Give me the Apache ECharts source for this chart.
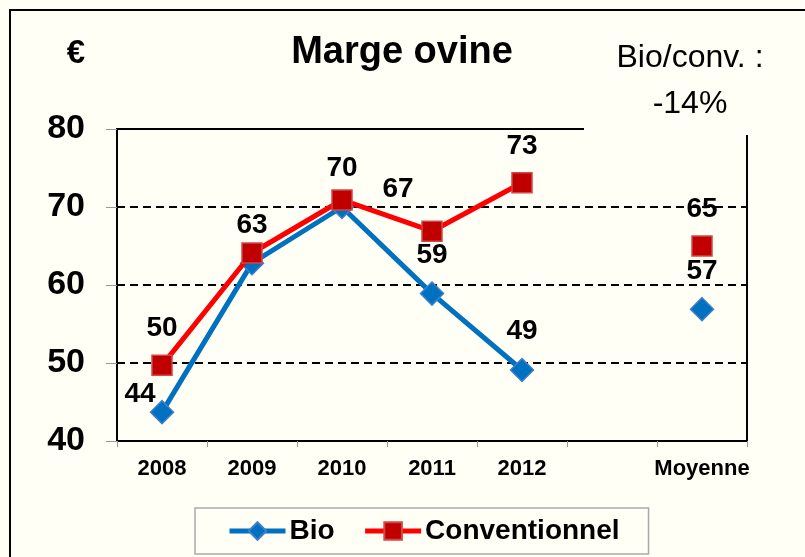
<!DOCTYPE html>
<html>
<head>
<meta charset="utf-8">
<script src="https://cdn.jsdelivr.net/npm/echarts@6/dist/echarts.min.js"></script>
<style>
html,body{margin:0;padding:0;background:#FFFFF6;}
#c{width:805px;height:557px;}
</style>
</head>
<body>
<div id="c"></div>
<script>
const categories = ['2008', '2009', '2010', '2011', '2012', '', 'Moyenne'];
const bioValues = [43.7, 62.8, 70, 58.9, 49.1, null, 56.9];
const convValues = [49.7, 64.1, 70.9, 66.9, 73.1, null, 65];
const yTicks = [40, 50, 60, 70, 80];
const seriesNames = ['Bio', 'Conventionnel'];

const FONT = 'Arial, "Liberation Sans", sans-serif';
const BG = '#FFFFF6';

function lbl(v) { return Math.round(v); }

// label tweaks by index (style only)
const bioLabelOverrides = { 0: { offset: [-22, 20] } };
const convLabelOverrides = { 1: { show: false }, 2: { show: false }, 3: { offset: [-34, -5] } };

function buildData(values, overrides) {
  return values.map((v, i) => {
    if (v === null) return null;
    const o = overrides[i];
    return o ? { value: v, label: o } : v;
  });
}

const labelBase = {
  show: true,
  position: 'top',
  distance: 12,
  color: '#000',
  fontFamily: FONT,
  fontWeight: 'bold',
  fontSize: 28,
  formatter: p => lbl(p.value)
};

const chart = echarts.init(document.getElementById('c'), null, { renderer: 'canvas' });
chart.setOption({
  backgroundColor: BG,
  animation: false,
  grid: {
    left: 117, right: 58, top: 129, bottom: 116,
    show: true, borderColor: '#000', borderWidth: 2, backgroundColor: 'transparent'
  },
  xAxis: {
    type: 'category',
    data: categories,
    boundaryGap: true,
    axisLine: { lineStyle: { color: '#000', width: 2 } },
    axisTick: { show: true, length: 6, lineStyle: { color: '#999', width: 1 } },
    axisLabel: { margin: 17, color: '#000', fontFamily: FONT, fontWeight: 'bold', fontSize: 22, interval: 0 },
    splitLine: { show: false }
  },
  yAxis: {
    type: 'value',
    min: yTicks[0], max: yTicks[yTicks.length - 1], interval: 10,
    axisLine: { show: true, lineStyle: { color: '#000', width: 2 } },
    axisTick: { show: true, length: 11, lineStyle: { color: '#999', width: 1 } },
    axisLabel: { margin: 32, color: '#000', fontFamily: FONT, fontWeight: 'bold', fontSize: 34 },
    splitLine: { show: true, lineStyle: { color: '#000', width: 2, type: [8, 5] } }
  },
  legend: {
    data: seriesNames,
    left: 195, top: 508,
    padding: [9, 29, 9, 32],
    itemWidth: 56, itemHeight: 22, itemGap: 28,
    backgroundColor: BG,
    borderColor: '#AAAAAA', borderWidth: 1.5, borderRadius: 0,
    lineStyle: { width: 5 },
    textStyle: { color: '#000', fontFamily: FONT, fontWeight: 'bold', fontSize: 28, padding: [0, 0, 0, -1] }
  },
  series: [
    {
      name: seriesNames[0], type: 'line',
      data: buildData(bioValues, bioLabelOverrides),
      connectNulls: false,
      symbol: 'diamond', symbolSize: 23,
      lineStyle: { color: '#0070C0', width: 5 },
      itemStyle: { color: '#0070C0', borderColor: '#3F7FC8', borderWidth: 1.5 },
      label: labelBase,
      z: 2
    },
    {
      name: seriesNames[1], type: 'line',
      data: buildData(convValues, convLabelOverrides),
      connectNulls: false,
      symbol: 'rect', symbolSize: 20,
      lineStyle: { color: '#FF0000', width: 5 },
      itemStyle: { color: '#C00000', borderColor: '#D04848', borderWidth: 1.5 },
      label: labelBase,
      z: 3
    }
  ],
  graphic: [
    { type: 'rect', z: 100, shape: { x: 10, y: 10, width: 820, height: 580 },
      style: { fill: 'none', stroke: '#000', lineWidth: 2 } },
    { type: 'rect', z: 90, shape: { x: 584, y: 16, width: 215, height: 119 },
      style: { fill: BG, stroke: 'none' } },
    { type: 'text', z: 101, x: 402, y: 53,
      style: { text: 'Marge ovine', fill: '#000', font: 'bold 38px ' + FONT, textAlign: 'center', textVerticalAlign: 'middle' } },
    { type: 'text', z: 101, x: 76, y: 54,
      style: { text: '€', fill: '#000', font: 'bold 33px ' + FONT, textAlign: 'center', textVerticalAlign: 'middle' } },
    { type: 'text', z: 101, x: 690, y: 58,
      style: { text: 'Bio/conv. :', fill: '#000', font: '32px ' + FONT, textAlign: 'center', textVerticalAlign: 'middle' } },
    { type: 'text', z: 101, x: 690, y: 104,
      style: { text: '-14%', fill: '#000', font: '32px ' + FONT, textAlign: 'center', textVerticalAlign: 'middle' } }
  ]
});
</script>
</body>
</html>
